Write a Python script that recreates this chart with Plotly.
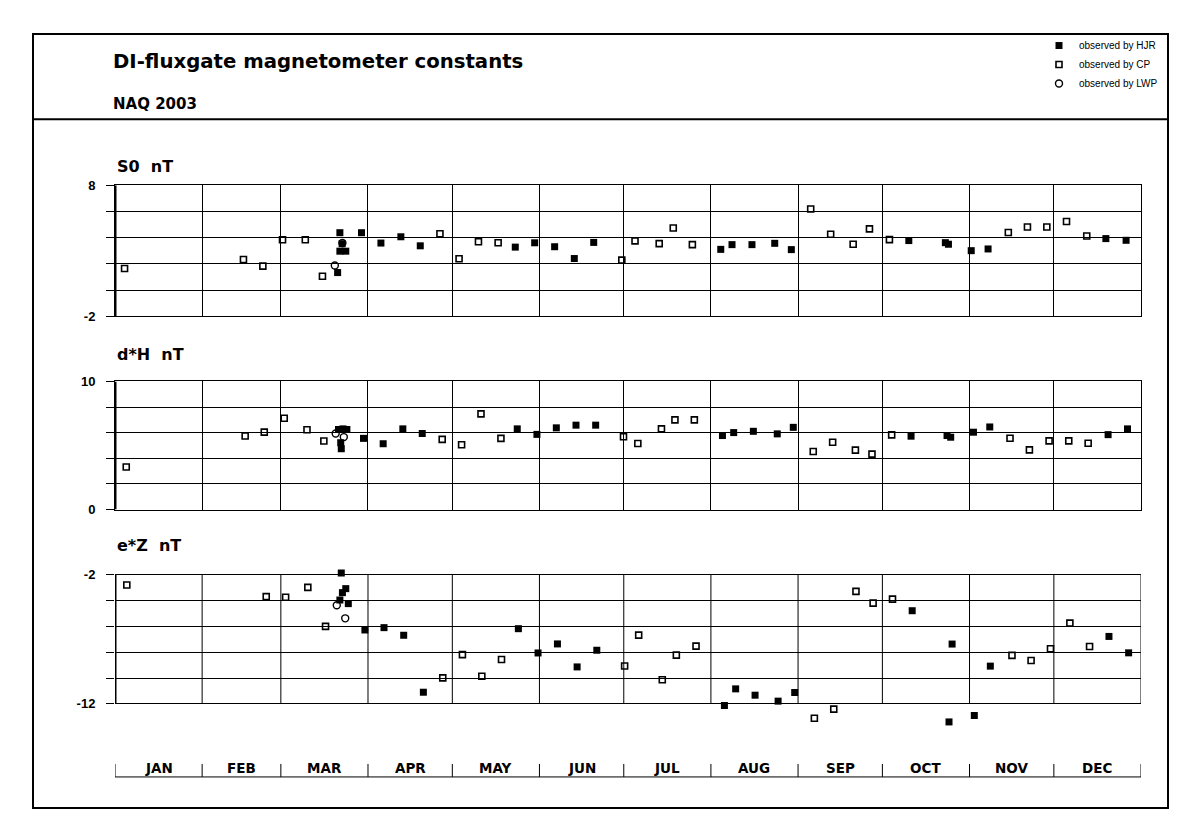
import plotly.graph_objects as go

# ---------------- data (day of year, value) ----------------
months = ["JAN", "FEB", "MAR", "APR", "MAY", "JUN", "JUL", "AUG", "SEP", "OCT", "NOV", "DEC"]
month_starts = [0, 31, 59, 90, 120, 151, 181, 212, 243, 273, 304, 334, 365]

# S0 nT
s0_cp_day = [3.4, 45.7, 52.6, 59.6, 67.7, 73.8, 115.6, 122.4, 129.3, 136.3, 180.3, 185.0, 193.6, 198.6, 205.4,
             247.5, 254.6, 262.6, 268.4, 275.5, 317.8, 324.6, 331.5, 338.5, 345.7]
s0_cp_val = [1.65, 2.34, 1.83, 3.84, 3.84, 1.06, 4.30, 2.39, 3.69, 3.61, 2.29, 3.76, 3.55, 4.74, 3.47,
             6.19, 4.26, 3.50, 4.67, 3.85, 4.39, 4.82, 4.82, 5.23, 4.13]
s0_hjr_day = [79.2, 80.0, 80.8, 80.0, 82.1, 87.7, 94.6, 101.7, 108.6, 142.4, 149.3, 156.4, 163.4, 170.3,
              215.5, 219.5, 226.6, 234.7, 240.6, 282.4, 295.4, 296.5, 304.6, 310.6, 352.5, 359.7]
s0_hjr_val = [1.34, 4.38, 3.54, 2.97, 2.97, 4.38, 3.59, 4.07, 3.38, 3.28, 3.61, 3.31, 2.41, 3.64,
              3.11, 3.47, 3.47, 3.57, 3.09, 3.78, 3.62, 3.50, 3.01, 3.14, 3.93, 3.80]
s0_lwp_day = [78.2, 80.9]
s0_lwp_val = [1.88, 3.60]

# d*H nT
dh_cp_day = [4.0, 46.3, 53.1, 60.2, 68.3, 74.3, 116.4, 123.3, 130.2, 137.3, 180.9, 186.0, 194.4, 199.2, 206.1,
             248.4, 255.3, 263.4, 269.3, 276.3, 318.4, 325.3, 332.3, 339.3, 346.2]
dh_cp_val = [3.33, 5.74, 6.05, 7.13, 6.23, 5.35, 5.48, 5.06, 7.47, 5.56, 5.68, 5.16, 6.30, 7.00, 7.00,
             4.53, 5.26, 4.64, 4.33, 5.83, 5.57, 4.66, 5.36, 5.36, 5.18]
dh_hjr_day = [79.5, 81.1, 82.5, 80.3, 80.5, 88.4, 95.4, 102.4, 109.3, 143.1, 150.1, 157.0, 164.0, 171.0,
              216.1, 220.1, 227.1, 235.6, 241.3, 283.2, 296.0, 297.3, 305.4, 311.2, 353.3, 360.2]
dh_hjr_val = [6.25, 6.30, 6.25, 5.22, 4.75, 5.56, 5.14, 6.30, 5.94, 6.30, 5.87, 6.38, 6.59, 6.59,
              5.78, 6.01, 6.11, 5.91, 6.42, 5.73, 5.78, 5.65, 6.04, 6.45, 5.85, 6.30]
dh_lwp_day = [78.5, 81.4]
dh_lwp_val = [5.94, 5.66]

# e*Z nT
ez_cp_day = [4.2, 53.8, 60.7, 68.6, 74.9, 116.6, 123.6, 130.5, 137.5, 181.3, 186.3, 194.7, 199.7, 206.7,
             248.8, 255.7, 263.6, 269.7, 276.6, 319.1, 325.9, 332.8, 339.7, 346.7]
ez_cp_val = [-2.80, -3.70, -3.75, -2.98, -6.00, -9.99, -8.19, -9.86, -8.57, -9.07, -6.68, -10.14, -8.23, -7.53,
             -13.11, -12.41, -3.29, -4.20, -3.89, -8.25, -8.64, -7.74, -5.75, -7.56]
ez_hjr_day = [80.5, 82.1, 80.9, 80.0, 83.0, 88.9, 95.7, 102.7, 109.7, 143.5, 150.5, 157.4, 164.4, 171.4,
              216.8, 220.8, 227.7, 235.9, 241.8, 283.6, 296.7, 297.8, 305.7, 311.4, 353.6, 360.6]
ez_hjr_val = [-1.87, -3.08, -3.39, -3.96, -4.24, -6.28, -6.10, -6.69, -11.10, -6.18, -8.06, -7.36, -9.14, -7.85,
              -12.13, -10.84, -11.33, -11.79, -11.12, -4.79, -13.40, -7.37, -12.90, -9.08, -6.78, -8.05]
ez_lwp_day = [78.9, 81.9]
ez_lwp_val = [-4.37, -5.38]

panel_titles = ["S0\u00a0\u00a0nT", "d*H\u00a0\u00a0nT", "e*Z\u00a0\u00a0nT"]
panel_ranges = [[-2, 8], [0, 10], [-12, -2]]
panel_ticktext = [["-2", "8"], ["0", "10"], ["-12", "-2"]]

# ---------------- layout helpers ----------------
W, H = 1201, 836
def px(x):
    return x / W
def py(y):
    # target screen row -> paper fraction (the page is shown with an 8px band top/bottom)
    return 1 - (y - 8) / 820.0

X_DOM = [px(115), px(1141)]
FRAME_PX = [(186, 317), (382, 510), (575, 704)]   # screen rows of the framed grid of each panel
PAD = [(0, 0), (0, 0), (2.0, 0.5)]                # extra data room (below, above) so outliers stay visible
FONT = "Liberation Sans, Arial, sans-serif"
DFONT = "DejaVu Sans, Liberation Sans, sans-serif"

fig = go.Figure()

series = [
    (s0_hjr_day, s0_hjr_val, s0_cp_day, s0_cp_val, s0_lwp_day, s0_lwp_val),
    (dh_hjr_day, dh_hjr_val, dh_cp_day, dh_cp_val, dh_lwp_day, dh_lwp_val),
    (ez_hjr_day, ez_hjr_val, ez_cp_day, ez_cp_val, ez_lwp_day, ez_lwp_val),
]

for i, (hd, hv, cd, cv, ld, lv) in enumerate(series):
    ax = "" if i == 0 else str(i + 1)
    show = i == 0
    fig.add_trace(go.Scatter(x=cd, y=cv, mode="markers", name="observed by CP",
                             legendgroup="cp", showlegend=show, legendrank=2,
                             marker=dict(symbol="square-open", size=6, color="black", line=dict(width=1.6)),
                             xaxis="x" + ax, yaxis="y" + ax, cliponaxis=False))
    fig.add_trace(go.Scatter(x=ld, y=lv, mode="markers", name="observed by LWP",
                             legendgroup="lwp", showlegend=show, legendrank=3,
                             marker=dict(symbol="circle-open", size=7, color="black", line=dict(width=1.4)),
                             xaxis="x" + ax, yaxis="y" + ax, cliponaxis=False))
    fig.add_trace(go.Scatter(x=hd, y=hv, mode="markers", name="observed by HJR",
                             legendgroup="hjr", showlegend=show, legendrank=1,
                             marker=dict(symbol="square", size=7, color="black"),
                             xaxis="x" + ax, yaxis="y" + ax, cliponaxis=False))

layout = dict(
    width=W, height=H,
    margin=dict(l=0, r=0, t=0, b=0),
    paper_bgcolor="white", plot_bgcolor="rgba(0,0,0,0)",
    font=dict(family=FONT, color="black"),
    showlegend=True,
    legend=dict(x=px(1039), y=py(32), xanchor="left", yanchor="top",
                font=dict(size=10, family=FONT), itemwidth=30,
                bgcolor="rgba(0,0,0,0)", tracegroupgap=0),
)

shapes = []
for i in range(3):
    ax = "" if i == 0 else str(i + 1)
    lo, hi = panel_ranges[i]
    pad_lo, pad_hi = PAD[i]
    top_px, bot_px = FRAME_PX[i]
    ppu = (bot_px - top_px) / (hi - lo)
    dom_top = top_px - pad_hi * ppu
    dom_bot = bot_px + pad_lo * ppu
    tv = list(range(lo, hi + 1, 2))
    tt = [panel_ticktext[i][0]] + [""] * (len(tv) - 2) + [panel_ticktext[i][1]]
    padded = pad_lo > 0 or pad_hi > 0
    layout["xaxis" + ax] = dict(domain=X_DOM, range=[0, 365], anchor="y" + ax,
                                tickvals=month_starts, showticklabels=False, ticks="",
                                showgrid=not padded, gridcolor="black", gridwidth=1,
                                showline=not padded, linecolor="black", linewidth=1, mirror=True,
                                zeroline=False, fixedrange=True)
    layout["yaxis" + ax] = dict(domain=[py(dom_bot), py(dom_top)], range=[lo - pad_lo, hi + pad_hi],
                                anchor="x" + ax, tickvals=tv, ticktext=tt,
                                ticks="outside", ticklen=8, tickcolor="black", tickwidth=1,
                                ticklabelstandoff=8,
                                tickfont=dict(size=13, weight="bold", family=FONT),
                                showgrid=True, gridcolor="black", gridwidth=1,
                                showline=not padded, linecolor="black", linewidth=1, mirror=True,
                                zeroline=False, fixedrange=True)
    if padded:
        # month dividers and right border drawn only over the framed value range
        for d in month_starts[1:]:
            shapes.append(dict(type="line", xref="x" + ax, yref="y" + ax, x0=d, x1=d, y0=lo, y1=hi,
                               line=dict(color="black", width=1), layer="below"))
    # thick left axis line
    shapes.append(dict(type="line", xref="x" + ax, yref="y" + ax, x0=0, x1=0, y0=lo, y1=hi,
                       line=dict(color="black", width=3)))

fig.update_layout(**layout)

# outer frame and header separator
shapes.append(dict(type="rect", xref="paper", yref="paper", x0=px(33), x1=px(1168), y0=py(808), y1=py(35),
                   line=dict(color="black", width=2)))
shapes.append(dict(type="line", xref="paper", yref="paper", x0=px(33), x1=px(1168), y0=py(120), y1=py(120),
                   line=dict(color="black", width=2)))
# month axis at bottom
shapes.append(dict(type="line", xref="x3", yref="paper", x0=0, x1=365, y0=py(777), y1=py(777),
                   line=dict(color="black", width=1)))
for d in month_starts:
    shapes.append(dict(type="line", xref="x3", yref="paper", x0=d, x1=d, y0=py(777), y1=py(764),
                       line=dict(color="black", width=1)))
fig.update_layout(shapes=shapes)

ann = []
ann.append(dict(text="DI-fluxgate magnetometer constants", xref="paper", yref="paper",
                x=px(111), y=py(62), xanchor="left", yanchor="middle", showarrow=False,
                font=dict(size=19.7, weight="bold", family=DFONT)))
ann.append(dict(text="NAQ 2003", xref="paper", yref="paper",
                x=px(111), y=py(105), xanchor="left", yanchor="middle", showarrow=False,
                font=dict(size=15, weight="bold", family=DFONT)))
title_y = [167, 355, 546]
for i in range(3):
    ann.append(dict(text=panel_titles[i], xref="paper", yref="paper",
                    x=px(115), y=py(title_y[i]), xanchor="left", yanchor="middle", showarrow=False,
                    font=dict(size=16, weight="bold", family=DFONT)))
for m in range(12):
    mid = (month_starts[m] + month_starts[m + 1]) / 2
    ann.append(dict(text=months[m], xref="x3", yref="paper", x=mid, y=py(768),
                    xanchor="center", yanchor="middle", showarrow=False,
                    font=dict(size=13.5, weight="bold", family=DFONT)))
fig.update_layout(annotations=ann)

post = (
    "document.documentElement.style.margin='0';"
    "document.body.style.margin='0';"
    "document.documentElement.style.overflow='hidden';"
    "document.body.style.overflow='hidden';"
    "var gd=document.getElementsByClassName('plotly-graph-div')[0];"
    "gd.style.position='absolute';gd.style.left='0px';gd.style.top='0px';"
)
fig.write_html("out.html", config={"displayModeBar": False}, post_script=post)
